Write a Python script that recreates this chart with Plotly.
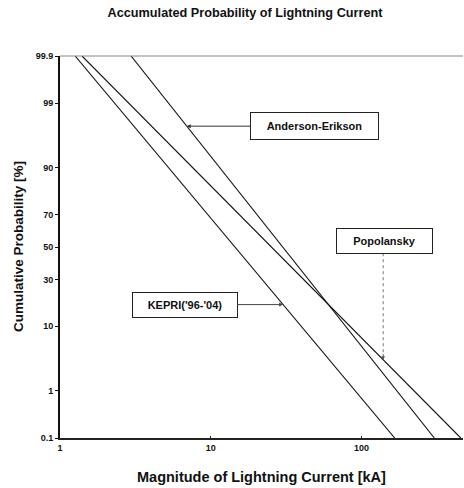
import math
from statistics import NormalDist
import plotly.graph_objects as go

# ---------------- data ----------------
prob_ends = [99.9, 0.1]            # cumulative probability [%] at line ends
kepri_ka = [1.26, 166.0]           # KEPRI('96-'04)
popolansky_ka = [1.40, 455.0]      # Popolansky
anderson_ka = [2.96, 304.0]        # Anderson-Erikson

y_tick_vals = [0.1, 1, 10, 30, 50, 70, 90, 99, 99.9]
y_tick_text = ["0.1", "1", "10", "30", "50", "70", "90", "99", "99.9"]
x_tick_vals = [1, 10, 100]
x_tick_text = ["1", "10", "100"]

# ------------- probability-paper scale -------------
_nd = NormalDist()
def z(p):
    return _nd.inv_cdf(p / 100.0)

def x_at(xs, p):
    t = (z(p) - z(prob_ends[0])) / (z(prob_ends[1]) - z(prob_ends[0]))
    lx = math.log10(xs[0]) + t * (math.log10(xs[1]) - math.log10(xs[0]))
    return 10 ** lx

def p_at(xs, x):
    t = (math.log10(x) - math.log10(xs[0])) / (math.log10(xs[1]) - math.log10(xs[0]))
    zz = z(prob_ends[0]) + t * (z(prob_ends[1]) - z(prob_ends[0]))
    return _nd.cdf(zz) * 100

FONT = "Liberation Sans, Arial, sans-serif"

fig = go.Figure()
for name, xs in [("KEPRI('96-'04)", kepri_ka), ("Popolansky", popolansky_ka),
                 ("Anderson-Erikson", anderson_ka)]:
    fig.add_trace(go.Scatter(x=xs, y=[z(p) for p in prob_ends], mode="lines",
                             line=dict(color="#111111", width=1.1), name=name,
                             showlegend=False, hoverinfo="skip"))

# Popolansky pointer (dotted)
pop_x = 139.2
pop_tip_p = p_at(popolansky_ka, pop_x)
fig.add_trace(go.Scatter(x=[pop_x, pop_x], y=[z(46.0), z(pop_tip_p) + 0.08], mode="lines",
                         line=dict(color="#777777", width=1, dash="dot"),
                         showlegend=False, hoverinfo="skip"))

box_font = dict(family=FONT, size=11, color="#111111", weight="bold")

annotations = []
# Anderson-Erikson
a_p = 97.47
annotations.append(dict(
    x=math.log10(x_at(anderson_ka, a_p)), y=z(a_p), xref="x", yref="y",
    ax=math.log10(48.7), ay=z(a_p), axref="x", ayref="y",
    text="Anderson-Erikson", showarrow=True, arrowhead=2, arrowsize=0.8,
    arrowwidth=1, arrowcolor="#333333", font=box_font,
    bordercolor="#222222", borderwidth=1, borderpad=2, bgcolor="white",
    width=123, height=22))
# KEPRI
k_p = 17.57
annotations.append(dict(
    x=math.log10(x_at(kepri_ka, k_p)), y=z(k_p), xref="x", yref="y",
    ax=math.log10(6.73), ay=z(k_p), axref="x", ayref="y",
    text="KEPRI('96-'04)", showarrow=True, arrowhead=2, arrowsize=0.8,
    arrowwidth=1, arrowcolor="#444444", font=box_font,
    bordercolor="#222222", borderwidth=1, borderpad=2, bgcolor="white",
    width=100, height=20))
# Popolansky box
annotations.append(dict(
    x=math.log10(142.9), y=z(54.0), xref="x", yref="y",
    text="Popolansky", showarrow=False, font=box_font,
    bordercolor="#222222", borderwidth=1, borderpad=2, bgcolor="white",
    width=91, height=20))
# Popolansky arrowhead
annotations.append(dict(
    x=math.log10(pop_x), y=z(pop_tip_p), xref="x", yref="y",
    ax=0, ay=-7, text="", showarrow=True, arrowhead=2, arrowsize=0.7,
    arrowwidth=1, arrowcolor="#555555"))

# axis titles
annotations.append(dict(
    x=0.5, y=0, xref="paper", yref="paper", yanchor="middle", xanchor="center",
    yshift=-39, text="Magnitude of Lightning Current [kA]", showarrow=False,
    font=dict(family=FONT, size=14.5, color="#111111", weight="bold")))
annotations.append(dict(
    x=0, y=0.5, xref="paper", yref="paper", xanchor="center", yanchor="middle",
    xshift=-42, textangle=-90, text="Cumulative Probability [%]", showarrow=False,
    font=dict(family=FONT, size=13.5, color="#111111", weight="bold")))

fig.update_layout(
    width=464, height=488,
    margin=dict(l=60, r=1, t=56, b=50),
    paper_bgcolor="white", plot_bgcolor="white",
    title=dict(text="Accumulated Probability of Lightning Current",
               x=245 / 464, xref="container", xanchor="center",
               y=1 - 13 / 488, yref="container", yanchor="middle",
               font=dict(family=FONT, size=12.7, color="#111111", weight="bold")),
    annotations=annotations,
    shapes=[dict(type="line", xref="paper", yref="paper", x0=0, x1=1, y0=1, y1=1,
                 line=dict(color="#8a8a8a", width=1.2))],
)

fig.update_xaxes(type="log", range=[0, 2.673], tickvals=x_tick_vals, ticktext=x_tick_text,
                 showgrid=False, zeroline=False, showline=True, linecolor="#222222",
                 linewidth=1.5, ticks="inside", ticklen=2, tickcolor="#222222",
                 tickfont=dict(family=FONT, size=9, color="#111111", weight="bold"))
fig.update_yaxes(range=[z(0.1), z(99.9)], tickvals=[z(p) for p in y_tick_vals],
                 ticktext=y_tick_text, showgrid=False, zeroline=False, showline=True,
                 linecolor="#111111", linewidth=2, ticks="outside", ticklen=3,
                 tickcolor="#111111",
                 tickfont=dict(family=FONT, size=9, color="#111111", weight="bold"))

fig.write_html("out.html", config={"displayModeBar": False},
               post_script="document.body.style.margin='0';document.body.style.padding='0';"
                           "document.body.style.overflow='hidden';")
